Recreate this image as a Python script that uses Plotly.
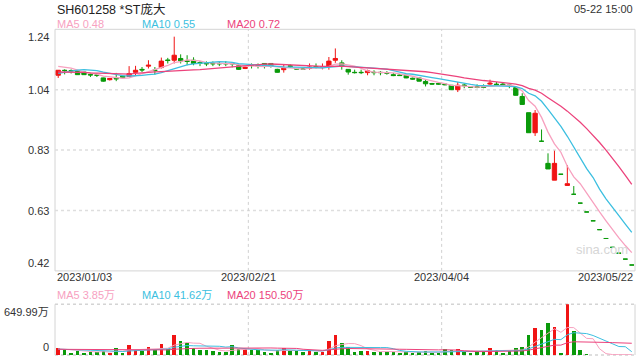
import plotly.graph_objects as go

# ---------------- data ----------------
title_text = "SH601258 *ST庞大"
time_text = "05-22 15:00"
date_labels = ["2023/01/03", "2023/02/21", "2023/04/04", "2023/05/22"]
price_ticks = [1.24, 1.035, 0.83, 0.625, 0.42]
price_tick_labels = ["1.24", "1.04", "0.83", "0.63", "0.42"]
vol_max = 649.99
vol_tick_labels = ["649.99万", "0"]
price_ma_labels = ["MA5 0.48", "MA10 0.55", "MA20 0.72"]
vol_ma_labels = ["MA5 3.85万", "MA10 41.62万", "MA20 150.50万"]

opens = [1.084, 1.101, 1.100, 1.099, 1.095, 1.087, 1.085, 1.075, 1.069, 1.074,
         1.081, 1.080, 1.094, 1.104, 1.115, 1.102, 1.110, 1.136, 1.135, 1.141,
         1.133, 1.135, 1.127, 1.125, 1.124, 1.124, 1.124, 1.124, 1.116, 1.107,
         1.119, 1.119, 1.124, 1.124, 1.104, 1.103, 1.116, 1.107, 1.107, 1.107,
         1.113, 1.110, 1.115, 1.135, 1.126, 1.104, 1.094, 1.094, 1.093, 1.094,
         1.094, 1.093, 1.086, 1.085, 1.084, 1.074, 1.075, 1.063, 1.056, 1.056,
         1.054, 1.050, 1.035, 1.051, 1.045, 1.045, 1.045, 1.054, 1.054, 1.054,
         1.051, 1.042, 1.012, 0.957, 0.889, 0.860, 0.785, 0.728, 0.748, 0.710,
         0.680, 0.650, 0.620, 0.590, 0.560, 0.530, 0.500, 0.480, 0.460, 0.440]
highs = [1.101, 1.104, 1.104, 1.101, 1.095, 1.092, 1.090, 1.076, 1.074, 1.092,
         1.082, 1.115, 1.116, 1.112, 1.135, 1.112, 1.144, 1.143, 1.215, 1.155,
         1.152, 1.145, 1.132, 1.131, 1.131, 1.132, 1.132, 1.128, 1.118, 1.113,
         1.124, 1.124, 1.125, 1.125, 1.106, 1.121, 1.121, 1.108, 1.108, 1.124,
         1.124, 1.124, 1.146, 1.175, 1.135, 1.105, 1.103, 1.103, 1.103, 1.101,
         1.098, 1.098, 1.092, 1.088, 1.085, 1.076, 1.076, 1.070, 1.058, 1.058,
         1.057, 1.051, 1.061, 1.056, 1.047, 1.053, 1.053, 1.069, 1.061, 1.058,
         1.051, 1.043, 1.023, 0.957, 0.966, 0.900, 0.819, 0.828, 0.748, 0.779,
         0.708, 0.650, 0.620, 0.590, 0.560, 0.530, 0.500, 0.480, 0.460, 0.440]
lows = [1.075, 1.087, 1.090, 1.086, 1.086, 1.078, 1.078, 1.062, 1.066, 1.064,
        1.074, 1.078, 1.084, 1.095, 1.107, 1.086, 1.107, 1.124, 1.124, 1.124,
        1.118, 1.118, 1.115, 1.115, 1.115, 1.115, 1.115, 1.111, 1.102, 1.105,
        1.107, 1.107, 1.107, 1.110, 1.093, 1.093, 1.109, 1.104, 1.104, 1.103,
        1.107, 1.104, 1.103, 1.126, 1.103, 1.086, 1.090, 1.088, 1.084, 1.084,
        1.084, 1.086, 1.081, 1.082, 1.074, 1.069, 1.063, 1.046, 1.052, 1.052,
        1.050, 1.034, 1.027, 1.040, 1.041, 1.040, 1.040, 1.050, 1.050, 1.050,
        1.040, 1.015, 0.984, 0.889, 0.878, 0.860, 0.766, 0.728, 0.748, 0.710,
        0.680, 0.650, 0.620, 0.590, 0.560, 0.530, 0.500, 0.480, 0.460, 0.440]
closes = [1.101, 1.100, 1.099, 1.086, 1.086, 1.085, 1.084, 1.064, 1.073, 1.072,
          1.076, 1.090, 1.101, 1.102, 1.118, 1.100, 1.132, 1.134, 1.152, 1.133,
          1.131, 1.124, 1.125, 1.123, 1.123, 1.123, 1.123, 1.123, 1.104, 1.111,
          1.117, 1.117, 1.116, 1.116, 1.094, 1.107, 1.114, 1.105, 1.105, 1.112,
          1.111, 1.112, 1.132, 1.141, 1.116, 1.095, 1.093, 1.093, 1.099, 1.093,
          1.093, 1.091, 1.083, 1.083, 1.075, 1.071, 1.064, 1.055, 1.054, 1.054,
          1.052, 1.035, 1.050, 1.049, 1.043, 1.043, 1.043, 1.057, 1.052, 1.052,
          1.049, 1.016, 0.985, 0.889, 0.955, 0.860, 0.766, 0.785, 0.748, 0.716,
          0.680, 0.650, 0.620, 0.590, 0.560, 0.530, 0.500, 0.480, 0.460, 0.440]
# volume in 万 shares
volumes = [94, 60, 26, 56, 26, 43, 43, 47, 26, 90,
           30, 128, 60, 56, 102, 60, 141, 73, 256, 179,
           158, 94, 64, 64, 51, 38, 38, 128, 81, 73,
           64, 68, 38, 30, 60, 94, 56, 51, 43, 68,
           43, 43, 179, 256, 149, 107, 38, 51, 51, 38,
           38, 43, 38, 30, 38, 30, 34, 47, 30, 30,
           73, 64, 73, 43, 26, 51, 51, 90, 60, 26,
           47, 90, 102, 250, 340, 325, 405, 359, 26, 649.99,
           314, 62, 12, 5, 4, 4.5, 4, 3.8, 3.5, 3.45]
# estimated closes / volumes of the 19 sessions before the window (for MA warm-up)
prior_closes = [1.10, 1.11, 1.10, 1.09, 1.11, 1.10, 1.09, 1.10, 1.11, 1.09,
                1.06, 1.05, 1.06, 1.07, 1.09, 1.11, 1.12, 1.12, 1.12]
prior_volumes = [70, 65, 80, 60, 75, 90, 55, 70, 60, 85,
                 65, 70, 80, 60, 75, 90, 70, 85, 60]

# ---------------- helpers ----------------
def moving_avg(prior, vals, n):
    full = prior + vals
    out = []
    off = len(prior)
    for i in range(len(vals)):
        j = off + i
        window = full[max(0, j - n + 1): j + 1]
        out.append(sum(window) / len(window))
    return out

N = len(closes)
xs = list(range(N))

RED = "#f01414"
GREEN = "#0a9a0a"
C_MA5 = "#f7a1bf"
C_MA10 = "#3cbfe0"
C_MA20 = "#ec437c"
MA_COLORS = [C_MA5, C_MA10, C_MA20]
FONT = "Arial, 'Liberation Sans', 'Noto Sans CJK SC', sans-serif"

# direction for volume colours (same rule as candlestick)
vol_colors = []
prev_c = None
inc = True
for o, c in zip(opens, closes):
    if c > o:
        inc = True
    elif c < o:
        inc = False
    else:
        if prev_c is not None and c != prev_c:
            inc = c > prev_c
    vol_colors.append(RED if inc else GREEN)
    prev_c = c

fig = go.Figure()

fig.add_trace(go.Candlestick(
    x=xs, open=opens, high=highs, low=lows, close=closes,
    increasing=dict(line=dict(color=RED, width=1), fillcolor=RED),
    decreasing=dict(line=dict(color=GREEN, width=1), fillcolor=GREEN),
    whiskerwidth=0, hoverinfo="skip", showlegend=False,
    xaxis="x", yaxis="y"))

for n, col in zip((5, 10, 20), MA_COLORS):
    fig.add_trace(go.Scatter(x=xs, y=moving_avg(prior_closes, closes, n), mode="lines",
                             line=dict(color=col, width=1.3), hoverinfo="skip",
                             showlegend=False, xaxis="x", yaxis="y"))

fig.add_trace(go.Bar(x=xs, y=volumes, marker=dict(color=vol_colors, line=dict(width=0)),
                     width=0.55, hoverinfo="skip", showlegend=False,
                     xaxis="x2", yaxis="y2"))

for n, col in zip((5, 10, 20), MA_COLORS):
    fig.add_trace(go.Scatter(x=xs, y=moving_avg(prior_volumes, volumes, n), mode="lines",
                             line=dict(color=col, width=1), hoverinfo="skip",
                             showlegend=False, xaxis="x2", yaxis="y2"))

xr = [-0.5, N - 0.5]
thirds = [xr[0] + (xr[1] - xr[0]) * k / 3 for k in range(4)]

shapes = []
# price panel border
shapes.append(dict(type="rect", xref="x domain", yref="y domain", x0=0, x1=1, y0=0, y1=1,
                   line=dict(color="#d4d4d4", width=1), layer="below"))
for v in price_ticks[1:-1]:
    shapes.append(dict(type="line", xref="x domain", yref="y", x0=0, x1=1, y0=v, y1=v,
                       line=dict(color="#dedede", width=1.5, dash="dot"), layer="below"))
for xv in thirds[1:3]:
    shapes.append(dict(type="line", xref="x", yref="y domain", x0=xv, x1=xv, y0=0, y1=1,
                       line=dict(color="#d0d0d0", width=1, dash="3px,3px"), layer="below"))
    shapes.append(dict(type="line", xref="x2", yref="y2 domain", x0=xv, x1=xv, y0=0, y1=1,
                       line=dict(color="#d0d0d0", width=1, dash="3px,3px"), layer="below"))
# volume panel frame
shapes.append(dict(type="line", xref="x2 domain", yref="y2 domain", x0=0, x1=1, y0=1, y1=1,
                   line=dict(color="#d4d4d4", width=1.5, dash="dot"), layer="below"))
shapes.append(dict(type="line", xref="x2 domain", yref="y2 domain", x0=0, x1=1, y0=0, y1=0,
                   line=dict(color="#d4d4d4", width=1.5, dash="dot"), layer="below"))
for xd in (0, 1):
    shapes.append(dict(type="line", xref="x2 domain", yref="y2 domain", x0=xd, x1=xd, y0=0, y1=1,
                       line=dict(color="#d4d4d4", width=1), layer="below"))

ann = []
def txt(text, x, y, xref="paper", yref="paper", xanchor="left", yanchor="middle",
        size=11, color="#333333", xshift=0):
    ann.append(dict(text=text, x=x, y=y, xref=xref, yref=yref, xanchor=xanchor,
                    yanchor=yanchor, showarrow=False, xshift=xshift,
                    font=dict(family=FONT, size=size, color=color)))

def py(px):
    return (360 - px) / 360

txt(title_text, 0, py(9), size=12.5, color="#222222")
txt(time_text, 1, py(9), xanchor="right", size=11, color="#333333")

leg_x = [0, (140 - 55) / 580, (225 - 55) / 580]
for lab_p, lab_v, col, lx in zip(price_ma_labels, vol_ma_labels, MA_COLORS, leg_x):
    txt(lab_p, lx, py(24), color=col)
    txt(lab_v, lx, py(295), color=col)

# price tick labels
for i, (v, lab) in enumerate(zip(price_ticks, price_tick_labels)):
    ya = "top" if i == 0 else ("bottom" if i == len(price_ticks) - 1 else "middle")
    txt(lab, 0, v, yref="y", xanchor="right", yanchor=ya, xshift=-4)

# volume tick labels
txt(vol_tick_labels[0], 0, vol_max, yref="y2", xanchor="right", yanchor="top", xshift=-4)
txt(vol_tick_labels[1], 0, 0, yref="y2", xanchor="right", yanchor="bottom", xshift=-4)

# date labels
anchors = ["left", "center", "center", "right"]
for xv, lab, a in zip(thirds, date_labels, anchors):
    txt(lab, xv, py(277), xref="x", xanchor=a)

txt("sina.com", (602 - 55) / 580, py(249), xanchor="center", size=13, color="#d6d6d6")

fig.update_layout(
    width=640, height=360,
    margin=dict(l=55, r=5, t=0, b=0),
    paper_bgcolor="white", plot_bgcolor="white",
    showlegend=False, boxgap=0.33, boxgroupgap=0,
    xaxis=dict(domain=[0, 1], range=xr, showgrid=False, zeroline=False,
               showticklabels=False, showline=False, rangeslider=dict(visible=False),
               anchor="y", fixedrange=True),
    xaxis2=dict(domain=[0, 1], range=xr, showgrid=False, zeroline=False,
                showticklabels=False, showline=False, anchor="y2", matches="x",
                fixedrange=True),
    yaxis=dict(domain=[py(270.9), py(29.3)], range=[price_ticks[-1], price_ticks[0]],
               showgrid=False, zeroline=False, showticklabels=False, fixedrange=True),
    yaxis2=dict(domain=[py(355), py(304.3)], range=[0, vol_max], showgrid=False,
                zeroline=False, showticklabels=False, fixedrange=True),
    shapes=shapes, annotations=ann, bargap=0,
)

fig.write_html(
    "out.html",
    config={"displayModeBar": False, "staticPlot": True},
    post_script="document.documentElement.style.margin='0';document.body.style.margin='0';"
                "document.body.style.overflow='hidden';",
)
